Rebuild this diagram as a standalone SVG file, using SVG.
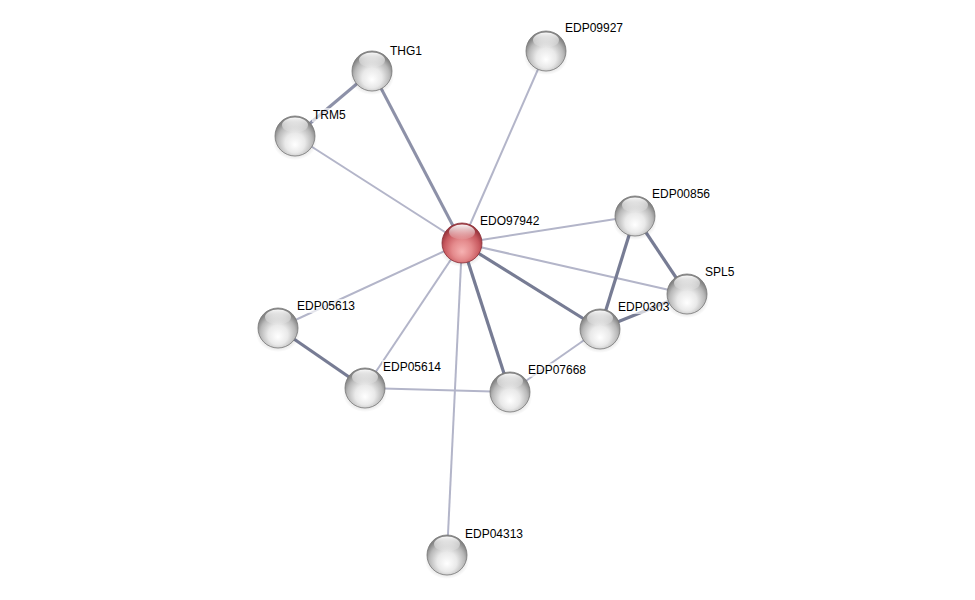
<svg xmlns="http://www.w3.org/2000/svg" width="975" height="600" viewBox="0 0 975 600">
<defs>
<radialGradient id="gBody" cx="50%" cy="62%" r="55%" fx="50%" fy="72%">
<stop offset="0%" stop-color="#ffffff"/>
<stop offset="45%" stop-color="#e9e9e9"/>
<stop offset="80%" stop-color="#b8b8b8"/>
<stop offset="100%" stop-color="#858585"/>
</radialGradient>
<radialGradient id="rBody" cx="50%" cy="62%" r="55%" fx="50%" fy="72%">
<stop offset="0%" stop-color="#f6b2b2"/>
<stop offset="45%" stop-color="#e48a8c"/>
<stop offset="80%" stop-color="#c85a60"/>
<stop offset="100%" stop-color="#9c3840"/>
</radialGradient>
<linearGradient id="hl" x1="0" y1="0" x2="0" y2="1">
<stop offset="0%" stop-color="#ffffff" stop-opacity="0.95"/>
<stop offset="100%" stop-color="#ffffff" stop-opacity="0.05"/>
</linearGradient>
<radialGradient id="shadow" cx="50%" cy="50%" r="50%">
<stop offset="0%" stop-color="#000" stop-opacity="0.4"/>
<stop offset="100%" stop-color="#000" stop-opacity="0"/>
</radialGradient>
<g id="ball">
<ellipse cx="0" cy="6" rx="22" ry="18" fill="url(#shadow)"/>
<circle r="20" fill="url(#gBody)" stroke="#777777" stroke-width="0.8"/>
<ellipse cx="0" cy="-11" rx="13" ry="7.5" fill="url(#hl)"/>
</g>
<g id="rball">
<ellipse cx="0" cy="6" rx="22" ry="18" fill="url(#shadow)"/>
<circle r="20" fill="url(#rBody)" stroke="#8a3038" stroke-width="0.8"/>
<ellipse cx="0" cy="-11" rx="13" ry="7.5" fill="url(#hl)"/>
</g>
</defs>
<style>
.thin{stroke:#b3b5c9;stroke-width:2;fill:none}
.thick{stroke:#777c94;stroke-width:3.2;fill:none}
.med{stroke:#8d91a8;stroke-width:3;fill:none}
.lbl{font-family:"Liberation Sans",Arial,sans-serif;font-size:12px;fill:#000}
.bg{fill:#ffffff;fill-opacity:0.65}
</style>
<rect width="975" height="600" fill="#ffffff"/>
<g id="connectors">
<line class="thin" x1="462" y1="243" x2="295" y2="136"/>
<line class="thin" x1="462" y1="243" x2="546" y2="51"/>
<line class="thin" x1="462" y1="243" x2="635" y2="216"/>
<line class="thin" x1="462" y1="243" x2="687" y2="294"/>
<line class="thin" x1="462" y1="243" x2="447" y2="555"/>
<line class="thin" x1="462" y1="243" x2="365" y2="388"/>
<line class="thin" x1="462" y1="243" x2="278" y2="328"/>
<line class="thin" x1="600" y1="329" x2="510" y2="392"/>
<line class="thin" x1="365" y1="388" x2="510" y2="392"/>
<line class="med" x1="372" y1="71" x2="462" y2="243"/>
<line class="med" x1="372" y1="71" x2="295" y2="136"/>
<line class="thick" x1="462" y1="243" x2="600" y2="329"/>
<line class="thick" x1="462" y1="243" x2="510" y2="392"/>
<line class="thick" x1="635" y1="216" x2="600" y2="329"/>
<line class="thick" x1="635" y1="216" x2="687" y2="294"/>
<line class="thick" x1="687" y1="294" x2="600" y2="329"/>
<line class="thick" x1="278" y1="328" x2="365" y2="388"/>
</g>
<g id="THG1"><use href="#ball" x="372" y="71"/><rect class="bg" x="389" y="44" width="35" height="14"/><text class="lbl" x="390" y="55">THG1</text></g>
<g id="TRM5"><use href="#ball" x="295" y="136"/><rect class="bg" x="312" y="108" width="36" height="14"/><text class="lbl" x="313" y="119">TRM5</text></g>
<g id="EDP09927"><use href="#ball" x="546" y="51"/><rect class="bg" x="563" y="21" width="62" height="14"/><text class="lbl" x="565" y="32">EDP09927</text></g>
<g id="EDO97942"><use href="#rball" x="462" y="243"/><rect class="bg" x="479" y="214" width="62" height="14"/><text class="lbl" x="480" y="225">EDO97942</text></g>
<g id="EDP00856"><use href="#ball" x="635" y="216"/><rect class="bg" x="651" y="187" width="62" height="14"/><text class="lbl" x="652" y="198">EDP00856</text></g>
<g id="EDP0303"><use href="#ball" x="600" y="329"/><rect class="bg" x="617" y="300" width="60" height="14"/><text class="lbl" x="618" y="311">EDP0303</text></g>
<g id="SPL5"><use href="#ball" x="687" y="294"/><rect class="bg" x="704" y="265" width="32" height="14"/><text class="lbl" x="705" y="276">SPL5</text></g>
<g id="EDP05613"><use href="#ball" x="278" y="328"/><rect class="bg" x="296" y="299" width="62" height="14"/><text class="lbl" x="297" y="310">EDP05613</text></g>
<g id="EDP05614"><use href="#ball" x="365" y="388"/><rect class="bg" x="382" y="360" width="62" height="14"/><text class="lbl" x="383" y="371">EDP05614</text></g>
<g id="EDP07668"><use href="#ball" x="510" y="392"/><rect class="bg" x="527" y="363" width="62" height="14"/><text class="lbl" x="528" y="374">EDP07668</text></g>
<g id="EDP04313"><use href="#ball" x="447" y="555"/><rect class="bg" x="464" y="527" width="62" height="14"/><text class="lbl" x="465" y="538">EDP04313</text></g>
</svg>
